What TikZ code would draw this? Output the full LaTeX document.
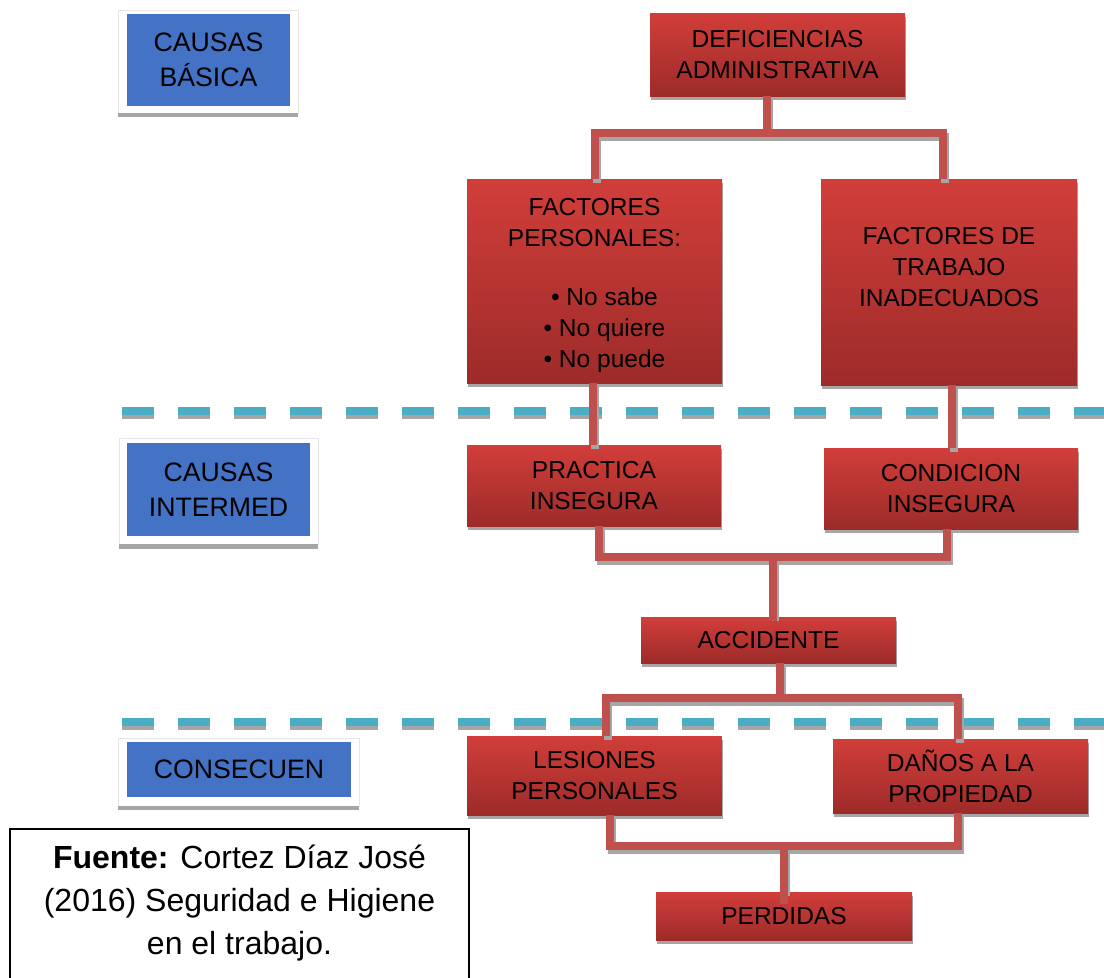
\documentclass[tikz,border=0pt]{standalone}
\usepackage{fontspec}
\setmainfont{Liberation Sans}

\definecolor{boxtop}{RGB}{209,62,58}
\definecolor{boxbot}{RGB}{157,43,41}
\definecolor{linkred}{RGB}{192,80,77}
\definecolor{bandblue}{RGB}{68,114,196}
\definecolor{sepcyan}{RGB}{75,172,198}
\definecolor{shadowgray}{RGB}{166,166,166}

\newcommand\boxfont{\fontsize{18.4}{23.25}\selectfont}
\newcommand\tagfont{\fontsize{20}{26.25}\selectfont}
\newcommand\notefont{\fontsize{24}{32}\selectfont}

\begin{document}
\begin{tikzpicture}[x=0.75pt, y=-0.75pt,
  redbox/.style={rectangle, inner sep=0pt, outer sep=0pt,
    top color=boxtop, bottom color=boxbot, text=black, align=center,
    font=\boxfont},
  bluebox/.style={rectangle, inner sep=0pt, outer sep=0pt, fill=bandblue,
    text=black, align=center, font=\tagfont},
  panel/.style={fill=white, draw=black!10, line width=0.4pt},
  panelband/.style={fill=shadowgray, draw=none},
  link/.style={draw=linkred, line width=6pt, line join=miter},
  linkshadow/.style={draw=shadowgray, line width=6pt, line join=miter},
  separator/.style={draw=sepcyan, line width=6pt, dash pattern=on 24pt off 18pt},
  sepshadow/.style={draw=shadowgray, line width=6pt, dash pattern=on 24pt off 18pt},
]
\useasboundingbox (0,0) rectangle (1104,978);

% level separators, each with a gray copy just below
\coordinate (sepA-l) at (122,411);
\coordinate (sepA-r) at (1104,411);
\coordinate (sepB-l) at (122,722);
\coordinate (sepB-r) at (1104,722);
\draw[sepshadow] ([yshift=-3pt]sepA-l) -- ([yshift=-3pt]sepA-r);
\draw[separator] (sepA-l) -- (sepA-r);
\draw[sepshadow] ([yshift=-3pt]sepB-l) -- ([yshift=-3pt]sepB-r);
\draw[separator] (sepB-l) -- (sepB-r);

% level tags on raised panels
\filldraw[panel] (118,10) rectangle (298,113);
\fill[panelband] (118,113) rectangle (298,117);
\node[bluebox, minimum width=122.25pt, minimum height=69pt] (basica) at (208.5,60) {CAUSAS\\BÁSICA};

\filldraw[panel] (119,438) rectangle (318,544);
\fill[panelband] (119,544) rectangle (318,549);
\node[bluebox, minimum width=137.25pt, minimum height=69.75pt] (intermed) at (218.5,489.5) {CAUSAS\\INTERMED};

\filldraw[panel] (118,738) rectangle (359,806);
\fill[panelband] (118,806) rectangle (359,810);
\node[bluebox, minimum width=168pt, minimum height=41.25pt] (consec) at (239,769.5) {CONSECUEN};

% gray drop shadows of the red boxes
\fill[shadowgray] (651,17) rectangle (906,100);
\fill[shadowgray] (468,183) rectangle (723,387);
\fill[shadowgray] (822,183) rectangle (1078,389);
\fill[shadowgray] (468,449) rectangle (722,530);
\fill[shadowgray] (825,452) rectangle (1079,533);
\fill[shadowgray] (642,621) rectangle (897,667);
\fill[shadowgray] (468,740) rectangle (723,819);
\fill[shadowgray] (834,743) rectangle (1089,817);
\fill[shadowgray] (657,896) rectangle (913,944);

% cause and consequence boxes
\node[redbox, minimum width=191.25pt, minimum height=62.25pt] (def) at (777.5,54.5) {DEFICIENCIAS\\ADMINISTRATIVA};
\node[redbox, minimum width=191.25pt, minimum height=153pt] (fp) at (594.5,281)
  {\rule{0pt}{19pt}FACTORES\\PERSONALES:\\[21pt]\hspace*{15pt}• No sabe\\\hspace*{15pt}• No quiere\\\hspace*{15pt}• No puede\rule[-3pt]{0pt}{0pt}};
\node[redbox, minimum width=192pt, minimum height=154.5pt] (ft) at (949,282)
  {FACTORES DE\\TRABAJO\\INADECUADOS\rule[-22.5pt]{0pt}{0pt}};
\node[redbox, minimum width=190.5pt, minimum height=60.75pt] (pract) at (594,485.5) {PRACTICA\\INSEGURA};
\node[redbox, minimum width=190.5pt, minimum height=60.75pt] (cond) at (951,488.5) {CONDICION\\INSEGURA};
\node[redbox, minimum width=191.25pt, minimum height=34.5pt] (acc) at (768.5,640) {ACCIDENTE};
\node[redbox, minimum width=190.9pt, minimum height=59.25pt] (les) at (594.5,775.5) {LESIONES\\PERSONALES};
\node[redbox, minimum width=191.25pt, minimum height=55.5pt] (dan) at (960.5,776) {DAÑOS A LA\\PROPIEDAD};
\node[redbox, minimum width=192pt, minimum height=36pt] (perd) at (784,916) {PERDIDAS};

% branch points of the connectors
\coordinate (j1) at (767,133);
\coordinate (j1l) at (595,133);
\coordinate (j1r) at (943,133);
\coordinate (fpx) at (593,0);
\coordinate (ftx) at (952,0);
\coordinate (j2) at (773,557);
\coordinate (j2l) at (599,557);
\coordinate (j2r) at (947,557);
\coordinate (j2e) at (773,621);
\coordinate (j3) at (780,698);
\coordinate (j3l) at (606,698);
\coordinate (j3r) at (958,698);
\coordinate (j4) at (784,846);
\coordinate (j4l) at (610,846);
\coordinate (j4r) at (958,846);
\coordinate (j4e) at (784,904);

% connector shadows
\begin{scope}[transform canvas={shift={(1.5pt,-3pt)}}]
\draw[linkshadow] (def.south -| j1) -- (j1);
\draw[linkshadow] (fp.north -| j1l) -- (j1l) -- (j1r) -- (ft.north -| j1r);
\draw[linkshadow] (fp.south -| fpx) -- (pract.north -| fpx);
\draw[linkshadow] (ft.south -| ftx) -- (cond.north -| ftx);
\draw[linkshadow] (pract.south -| j2l) -- (j2l) -- (j2r) -- (cond.south -| j2r);
\draw[linkshadow] (j2) -- (acc.north -| j2);
\draw[linkshadow] (acc.south -| j3) -- (j3);
\draw[linkshadow] (les.north -| j3l) -- (j3l) -- (j3r) -- (dan.north -| j3r);
\draw[linkshadow] (les.south -| j4l) -- (j4l) -- (j4r) -- (dan.south -| j4r);
\draw[linkshadow] (j4) -- (perd.north -| j4);
\end{scope}

% connectors
\draw[link] (def.south -| j1) -- (j1);
\draw[link] (fp.north -| j1l) -- (j1l) -- (j1r) -- (ft.north -| j1r);
\draw[link] (fp.south -| fpx) -- (pract.north -| fpx);
\draw[link] (ft.south -| ftx) -- (cond.north -| ftx);
\draw[link] (pract.south -| j2l) -- (j2l) -- (j2r) -- (cond.south -| j2r);
\draw[link] (j2) -- (j2e);
\draw[link] (acc.south -| j3) -- (j3);
\draw[link] (les.north -| j3l) -- (j3l) -- (j3r) -- (dan.north -| j3r);
\draw[link] (les.south -| j4l) -- (j4l) -- (j4r) -- (dan.south -| j4r);
\draw[link] (j4) -- (j4e);

% source note
\coordinate (nt-bl) at (10,978);
\coordinate (nt-tr) at (469,829);
\coordinate (nt-br) at (469,978);
\draw[line width=1.1pt] (nt-bl) |- (nt-tr) -- (nt-br);
\node[align=center, font=\notefont, inner sep=0pt] (fuente) at (239.5,903)
  {\textbf{Fuente:} Cortez Díaz José\\(2016) Seguridad e Higiene\\en el trabajo.};
\end{tikzpicture}
\end{document}
